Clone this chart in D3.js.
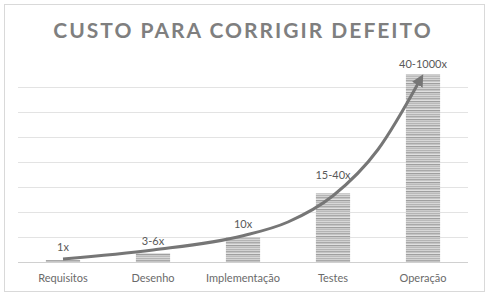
<!DOCTYPE html>
<html>
<head>
<meta charset="utf-8">
<script src="https://cdn.jsdelivr.net/npm/d3@7"></script>
<style>
  body { margin: 0; background: #fff; }
  text { font-family: Lato, "Open Sans", sans-serif; }
</style>
</head>
<body>
<div id="root"></div>
<script>
// data
const categories = ["Requisitos", "Desenho", "Implementação", "Testes", "Operação"];
const values = [1.6, 7.2, 20, 55, 150];
const labels = ["1x", "3-6x", "10x", "15-40x", "40-1000x"];
const yTicks = [0, 20, 40, 60, 80, 100, 120, 140];
// hand-drawn arrow, as [category index, value]
const arrowPts = [[0, 2.4], [1, 9.6], [2, 21], [2.5, 32], [3, 53], [3.5, 90], [3.97, 146]];

const W = 488, H = 295;
const margin = {top: 87, right: 20, bottom: 33, left: 18},
    width = W - margin.left - margin.right,
    height = H - margin.top - margin.bottom;

// label gap above bar (text boxes were placed by hand)
const labelGap = [9, 8, 9, 14, 7];

const svg = d3.select("#root").append("svg")
    .attr("width", W)
    .attr("height", H);

// outer frame
svg.append("rect")
    .attr("x", 4.5).attr("y", 4.5)
    .attr("width", 480).attr("height", 287)
    .attr("fill", "#fff")
    .attr("stroke", "#d9d9d9");

// title
svg.append("text")
    .attr("x", 243).attr("y", 38)
    .attr("text-anchor", "middle")
    .attr("fill", "#7f7f7f")
    .style("font-size", "21px")
    .style("font-weight", "bold")
    .style("letter-spacing", "2px")
    .text("CUSTO PARA CORRIGIR DEFEITO");

// stripe pattern for the bars
const defs = svg.append("defs");
const pat = defs.append("pattern")
    .attr("id", "stripes")
    .attr("patternUnits", "userSpaceOnUse")
    .attr("width", 40).attr("height", 9);
const stripeCols = ["#b4b4b4", "#d2d2d2", "#a9a9a9", "#c4c4c4", "#e0e0e0", "#9f9f9f", "#cbcbcb", "#bababa", "#d8d8d8"];
stripeCols.forEach((c, i) => {
    pat.append("rect").attr("x", 0).attr("y", i).attr("width", 40).attr("height", 1).attr("fill", c);
});

defs.append("marker")
    .attr("id", "head")
    .attr("viewBox", "0 0 10 10")
    .attr("refX", 5).attr("refY", 5)
    .attr("markerWidth", 4).attr("markerHeight", 4)
    .attr("orient", "auto")
    .append("path")
    .attr("d", "M0,0L10,5L0,10z")
    .attr("fill", "#767676");

const g = svg.append("g")
    .attr("transform", "translate(" + margin.left + "," + margin.top + ")");

// scales
const x = d3.scaleBand().domain(categories).range([0, width]).paddingInner(0.62).paddingOuter(0.31);
const y = d3.scaleLinear().domain([0, 140]).range([height, 0]);
const xi = d3.scaleLinear().domain([0, 4]).range([x(categories[0]) + x.bandwidth() / 2, x(categories[4]) + x.bandwidth() / 2]);

// gridlines
g.selectAll(".grid")
    .data(yTicks.slice(1))
    .enter().append("line")
    .attr("x1", 0).attr("x2", width)
    .attr("y1", d => Math.round(y(d)) + 0.5)
    .attr("y2", d => Math.round(y(d)) + 0.5)
    .attr("stroke", "#e3e3e3");

// bars
g.selectAll(".bar")
    .data(values)
    .enter().append("rect")
    .attr("x", (d, i) => x(categories[i]))
    .attr("y", d => y(d))
    .attr("width", x.bandwidth())
    .attr("height", d => y(0) - y(d))
    .attr("fill", "url(#stripes)");

// baseline
g.append("line")
    .attr("x1", 0).attr("x2", width)
    .attr("y1", y(0) + 0.5).attr("y2", y(0) + 0.5)
    .attr("stroke", "#d0d0d0");

// value labels
g.selectAll(".lbl")
    .data(values)
    .enter().append("text")
    .attr("x", (d, i) => x(categories[i]) + x.bandwidth() / 2)
    .attr("y", (d, i) => y(d) - labelGap[i])
    .attr("text-anchor", "middle")
    .attr("fill", "#595959")
    .style("font-size", "11px")
    .text((d, i) => labels[i]);

// x axis labels
g.selectAll(".cat")
    .data(categories)
    .enter().append("text")
    .attr("x", d => x(d) + x.bandwidth() / 2)
    .attr("y", height + 20)
    .attr("text-anchor", "middle")
    .attr("fill", "#6a6a6a")
    .style("font-size", "11px")
    .text(d => d);

// arrow
const arrowLine = d3.line()
    .curve(d3.curveMonotoneX)
    .x(d => xi(d[0]))
    .y(d => y(d[1]));

g.append("path")
    .datum(arrowPts)
    .attr("d", arrowLine)
    .attr("fill", "none")
    .attr("stroke", "#767676")
    .attr("stroke-width", 3)
    .attr("marker-end", "url(#head)");
</script>
</body>
</html>
